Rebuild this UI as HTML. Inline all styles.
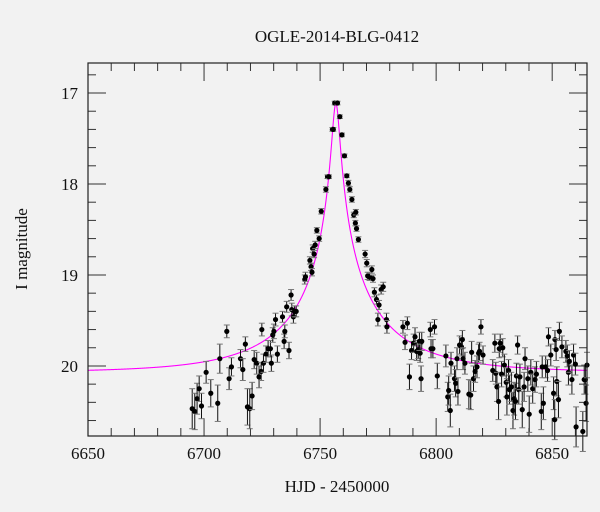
<!DOCTYPE html>
<html><head><meta charset="utf-8"><style>
html,body{margin:0;padding:0;background:#f2f2f2;}
svg{display:block;}
text{font-family:"Liberation Serif",serif;fill:#111;}
</style></head><body>
<svg id="chart" width="600" height="512" viewBox="0 0 600 512" xmlns="http://www.w3.org/2000/svg">
<rect x="0" y="0" width="600" height="512" fill="#f2f2f2"/>
<text x="337" y="42" text-anchor="middle" font-size="17">OGLE-2014-BLG-0412</text>
<text x="337" y="492" text-anchor="middle" font-size="17">HJD - 2450000</text>
<text transform="translate(27,249) rotate(-90)" text-anchor="middle" font-size="17">I magnitude</text>
<g id="axes"></g>
<g id="curve"></g>
<g id="pts"></g>
<rect x="88" y="63" width="499" height="373" fill="none" stroke="#222" stroke-width="1.2"/>
</svg>
<script>
const xTicks = [6650, 6700, 6750, 6800, 6850];
const yTicks = [17, 18, 19, 20];
const xDomain = [6650, 6865];
const yDomain = [16.67, 20.77];
const modelT0 = 6756.8;
const modelU0 = 0.034;
const modelTE = 47;
const modelBase = 20.07;
const modelFs = 0.5;
const obsT = [6694.9,6696.0,6697.0,6697.9,6698.9,6700.9,6702.9,6705.9,6706.8,6709.8,6710.8,6711.8,6715.7,6716.7,6717.8,6718.7,6719.7,6720.7,6721.6,6722.7,6723.7,6724.6,6724.9,6725.6,6726.7,6727.6,6728.6,6729.0,6729.6,6730.1,6730.8,6731.6,6733.8,6734.5,6734.8,6735.6,6736.6,6737.5,6737.8,6738.5,6739.0,6739.7,
6743.4,6743.7,6745.6,6746.1,6746.5,6746.8,6747.4,6747.9,6748.6,6749.6,6750.5,6752.5,6753.2,6753.8,6755.3,6755.7,6756.3,6757.5,
6758.5,6759.4,6760.5,6761.5,6762.2,6762.8,6763.7,6764.5,6765.4,6765.2,6765.7,6766.5,6769.4,6770.1,6770.5,6771.3,6772.3,6772.8,6773.4,6774.3,6774.9,6775.4,6776.3,6777.2,6778.6,6778.8,
6785.7,6786.6,6787.6,6788.5,6789.4,6790.3,6790.9,6791.6,6792.3,6792.8,6793.1,6793.5,6793.8,6797.5,6797.8,6798.6,6799.3,6800.5,6804.2,6805.0,6805.4,6806.1,6806.4,6807.9,6808.4,6809.0,6809.4,6810.1,6810.9,6811.3,6811.6,6812.4,6814.1,6814.9,6815.3,6816.1,6816.8,6817.6,6818.3,6818.7,6819.3,6820.2,
6824.4,6825.3,6825.7,6826.2,6826.9,6827.2,6827.6,6828.2,6828.7,6829.4,6830.2,6830.5,6831.2,6831.6,6832.4,6833.1,6833.6,6834.2,6834.6,6835.1,6835.6,6836.1,6837.1,6837.9,6838.3,6839.5,6840.1,6840.8,6841.6,6842.6,6843.2,6845.3,6845.7,6846.2,6847.2,6848.0,6848.4,6849.4,6850.6,6851.1,6851.2,6851.7,6852.0,6852.7,6853.1,6854.2,6855.9,6856.5,6857.0,6857.4,6858.5,6859.2,6860.0,6860.3,6863.2,6863.8,6864.3,6864.6,6865.0];
const obsMag = [20.47,20.50,20.36,20.25,20.44,20.07,20.30,20.41,19.92,19.62,20.14,20.01,19.92,20.04,19.76,20.45,20.47,20.33,19.93,19.97,20.12,20.06,19.60,19.97,19.87,19.81,19.81,19.97,19.66,19.62,19.49,19.87,19.46,19.73,19.62,19.35,19.83,19.22,19.38,19.46,19.40,19.40,
19.05,19.02,18.84,18.91,18.97,18.71,18.77,18.67,18.51,18.60,18.30,18.06,17.92,17.92,17.40,17.40,17.11,17.11,
17.26,17.46,17.69,17.91,17.99,18.06,18.17,18.34,18.31,18.43,18.49,18.61,18.77,18.87,19.01,19.02,18.94,19.04,19.19,19.27,19.49,19.33,19.16,19.13,19.49,19.57,
19.57,19.74,19.53,20.12,19.83,19.75,19.68,19.84,19.82,19.73,19.86,20.14,19.73,19.60,19.81,19.81,19.57,20.11,19.89,20.34,20.27,20.49,19.97,20.14,20.19,19.92,20.28,19.77,19.79,19.71,19.92,19.97,20.31,20.32,19.85,20.14,20.06,20.01,19.86,19.84,19.57,19.88,
20.05,19.75,20.08,20.23,20.39,19.81,19.75,20.09,19.80,19.99,20.18,20.34,20.05,20.26,20.23,20.49,20.36,20.39,20.11,19.77,20.26,20.12,20.48,20.23,19.92,20.14,20.53,20.07,20.25,20.15,20.09,20.50,20.01,20.41,20.01,20.05,19.68,19.88,20.30,20.59,19.71,19.82,20.17,20.37,19.62,19.79,19.84,19.89,20.07,19.95,20.15,19.88,19.98,20.67,20.72,20.15,20.15,20.41,19.99];
const obsErr = [0.22,0.2,0.17,0.14,0.14,0.12,0.15,0.2,0.16,0.07,0.12,0.1,0.1,0.12,0.08,0.2,0.22,0.15,0.1,0.12,0.12,0.1,0.07,0.1,0.09,0.09,0.09,0.09,0.08,0.08,0.07,0.09,0.06,0.08,0.07,0.06,0.09,0.06,0.07,0.07,0.06,0.06,
0.05,0.05,0.04,0.04,0.04,0.04,0.04,0.04,0.03,0.03,0.03,0.03,0.02,0.02,0.02,0.02,0.02,0.02,
0.02,0.02,0.02,0.02,0.03,0.03,0.03,0.03,0.03,0.03,0.03,0.03,0.04,0.04,0.04,0.04,0.04,0.04,0.05,0.05,0.07,0.05,0.05,0.05,0.07,0.07,
0.07,0.08,0.07,0.14,0.1,0.1,0.1,0.1,0.1,0.1,0.1,0.14,0.1,0.08,0.1,0.1,0.08,0.14,0.12,0.16,0.16,0.18,0.12,0.14,0.15,0.12,0.15,0.1,0.1,0.1,0.12,0.12,0.16,0.16,0.12,0.14,0.12,0.12,0.1,0.1,0.08,0.1,
0.12,0.1,0.12,0.16,0.2,0.1,0.1,0.14,0.1,0.12,0.16,0.2,0.12,0.16,0.16,0.2,0.18,0.2,0.14,0.1,0.16,0.14,0.2,0.16,0.12,0.14,0.2,0.14,0.16,0.14,0.14,0.2,0.12,0.18,0.12,0.12,0.1,0.12,0.18,0.22,0.1,0.12,0.16,0.2,0.1,0.12,0.12,0.12,0.14,0.12,0.16,0.12,0.12,0.22,0.22,0.16,0.16,0.2,0.14];

const X0 = 88, X1 = 587, Y0 = 63, Y1 = 436;
function xs(v){ return X0 + (v - xDomain[0]) / (xDomain[1] - xDomain[0]) * (X1 - X0); }
function ys(v){ return Y0 + (v - yDomain[0]) / (yDomain[1] - yDomain[0]) * (Y1 - Y0); }
const NS = 'http://www.w3.org/2000/svg';
function mk(tag, attrs, parent){ const e = document.createElementNS(NS, tag); for (const k in attrs) e.setAttribute(k, attrs[k]); parent.appendChild(e); return e; }

const axes = document.getElementById('axes');
// x minor ticks every 10 days
for (let v = xDomain[0]; v <= xDomain[1]; v += 10) {
  const major = (v % 50 === 0);
  const L = major ? 18 : 8;
  const x = xs(v);
  const b = mk('line', {x1:x, x2:x, y1:Y1, y2:Y1-L, stroke:'#333', 'stroke-width':1}, axes);
  
  
  const t = mk('line', {x1:x, x2:x, y1:Y0, y2:Y0+L, stroke:'#333', 'stroke-width':1}, axes);
  
  
}
xTicks.forEach(v => {
  const t = mk('text', {x:xs(v), y:Y1+23, 'text-anchor':'middle', 'font-size':17}, axes);
  t.textContent = v;
  
  
});
// y ticks every 0.2 mag
for (let i = Math.ceil(yDomain[0]*5); i <= Math.floor(yDomain[1]*5); i++) {
  const v = i / 5;
  const major = (i % 5 === 0);
  const L = major ? 18 : 8;
  const y = ys(v);
  const l = mk('line', {x1:X0, x2:X0+L, y1:y, y2:y, stroke:'#333', 'stroke-width':1}, axes);
  
  
  const r = mk('line', {x1:X1, x2:X1-L, y1:y, y2:y, stroke:'#333', 'stroke-width':1}, axes);
  
  
}
yTicks.forEach(v => {
  const t = mk('text', {x:78, y:ys(v)+6, 'text-anchor':'end', 'font-size':17}, axes);
  t.textContent = v;
  
  
});

// model curve
function modelMag(t){
  const tau = (t - modelT0) / modelTE;
  const u = Math.sqrt(modelU0*modelU0 + tau*tau);
  const A = (u*u + 2) / (u * Math.sqrt(u*u + 4));
  return modelBase - 2.5 * Math.log10(modelFs*A + 1 - modelFs);
}
let d = '';
for (let t = xDomain[0]; t <= xDomain[1]; t += 0.1) {
  d += (d ? 'L' : 'M') + xs(t).toFixed(2) + ',' + ys(modelMag(t)).toFixed(2);
}
const cp = mk('path', {d:d, fill:'none', stroke:'#ff00ff', 'stroke-width':1.1}, document.getElementById('curve'));



// data points
const pg = document.getElementById('pts');
obsT.forEach((t, i) => {
  const x = xs(t), y = ys(obsMag[i]);
  const ya = ys(obsMag[i] - obsErr[i]), yb = ys(obsMag[i] + obsErr[i]);
  const g = mk('g', {}, pg);
  
  
  mk('line', {x1:x, x2:x, y1:ya, y2:yb, stroke:'#111', 'stroke-width':1}, g);
  mk('line', {x1:x-3, x2:x+3, y1:ya, y2:ya, stroke:'#777', 'stroke-width':1}, g);
  mk('line', {x1:x-3, x2:x+3, y1:yb, y2:yb, stroke:'#777', 'stroke-width':1}, g);
  mk('circle', {cx:x, cy:y, r:2.6, fill:'#000'}, g);
});
</script>
</body></html>
